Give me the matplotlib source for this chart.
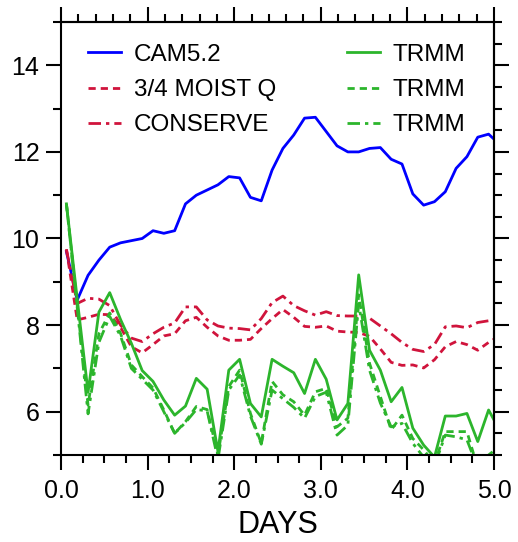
import numpy as np
import matplotlib
matplotlib.use("Agg")
import matplotlib.pyplot as plt
from matplotlib.ticker import MultipleLocator

plt.rcParams['font.family'] = ['Liberation Sans', 'DejaVu Sans']

# time (days), 3-hourly centred samples
days = 0.0625 + 0.125 * np.arange(41)

cam52 = [9.7, 8.58, 9.15, 9.5, 9.8, 9.9, 9.95, 10.0, 10.18, 10.12, 10.18, 10.8, 11.0,
         11.12, 11.24, 11.43, 11.40, 10.95, 10.87, 11.58, 12.08, 12.39, 12.78, 12.80,
         12.47, 12.14, 12.0, 12.0, 12.08, 12.1, 11.83, 11.72, 11.03, 10.77, 10.85,
         11.08, 11.62, 11.89, 12.34, 12.41, 12.18]
moist_q = [9.75, 8.12, 8.18, 8.25, 8.24, 7.95, 7.5, 7.36, 7.55, 7.75, 7.8, 8.1, 8.18,
           7.95, 7.75, 7.65, 7.65, 7.67, 7.92, 8.15, 8.36, 8.18, 7.97, 7.95, 7.98,
           7.86, 7.84, 7.83, 7.74, 7.45, 7.14, 7.07, 7.08, 7.01, 7.2, 7.5, 7.62, 7.55,
           7.42, 7.6, 7.75]
conserve = [9.75, 8.5, 8.62, 8.6, 8.45, 8.0, 7.7, 7.62, 7.8, 7.95, 8.05, 8.42, 8.42,
            8.12, 7.98, 7.93, 7.92, 7.89, 8.15, 8.52, 8.67, 8.45, 8.33, 8.23, 8.31,
            8.22, 8.21, 8.21, 8.16, 7.98, 7.8, 7.6, 7.44, 7.39, 7.55, 7.96, 7.98, 7.94,
            8.06, 8.1, 8.1]
trmm1 = [10.8, 8.6, 6.45, 8.3, 8.75, 8.13, 7.58, 6.95, 6.7, 6.27, 5.92, 6.13, 6.77,
         6.52, 5.08, 6.96, 7.21, 6.19, 5.88, 7.21, 7.05, 6.9, 6.42, 7.21, 6.75, 5.81,
         6.19, 9.16, 7.42, 6.96, 6.23, 6.56, 5.62, 5.23, 4.95, 5.9, 5.9, 5.96, 5.31,
         6.04, 5.58]
trmm2 = [10.8, 8.45, 6.15, 7.8, 8.28, 7.81, 7.08, 6.81, 6.55, 6.04, 5.5, 5.77, 6.12,
         6.05, 5.0, 6.58, 6.96, 5.96, 5.27, 6.7, 6.39, 6.23, 5.92, 6.46, 6.54, 5.65,
         5.85, 8.7, 7.12, 6.35, 5.58, 5.92, 5.38, 5.12, 4.8, 5.54, 5.54, 5.54, 4.7,
         5.0, 5.2]
trmm3 = [10.8, 8.4, 5.95, 7.6, 8.2, 7.75, 7.0, 6.75, 6.5, 6.0, 5.5, 5.75, 6.05, 6.02,
         4.9, 6.5, 6.85, 5.9, 5.25, 6.5, 6.3, 6.1, 5.85, 6.35, 6.45, 5.46, 5.69, 8.5,
         6.96, 6.2, 5.65, 5.73, 5.27, 4.95, 4.75, 5.46, 5.42, 5.35, 4.7, 4.95, 5.1]

labels = ["CAM5.2", "3/4 MOIST Q", "CONSERVE", "TRMM", "TRMM", "TRMM"]
xticks = [0, 1, 2, 3, 4, 5]
xticklabels = ["0.0", "1.0", "2.0", "3.0", "4.0", "5.0"]
yticks = [6, 8, 10, 12, 14]

BLUE = "#0000ff"
RED = "#d0143c"
GREEN = "#2cb52c"

fig = plt.figure(figsize=(5.18, 5.42), dpi=100)
ax = fig.add_axes([61/518, 1-455/542, 433/518, 433/542])

lw = 2.0
ax.plot(days, cam52, color=BLUE, lw=lw, label=labels[0])
ax.plot(days, moist_q, color=RED, lw=lw, dashes=(2.6, 1.8), label=labels[1])
ax.plot(days, conserve, color=RED, lw=lw, dashes=(4.5, 1.8, 1.2, 1.8), label=labels[2])
ax.plot(days, trmm1, color=GREEN, lw=lw, label=labels[3])
ax.plot(days, trmm2, color=GREEN, lw=lw, dashes=(2.6, 1.8), label=labels[4])
ax.plot(days, trmm3, color=GREEN, lw=lw, dashes=(4.5, 1.8, 1.2, 1.8), label=labels[5])

ax.set_xlim(0, 5)
ax.set_ylim(5, 15)

for s in ax.spines.values():
    s.set_linewidth(1.5)

ax.set_xticks(xticks)
ax.set_xticklabels(xticklabels)
ax.set_yticks(yticks)
ax.xaxis.set_minor_locator(MultipleLocator(0.25))
ax.yaxis.set_minor_locator(MultipleLocator(1))
ax.tick_params(axis='both', which='major', direction='out', length=10.5, width=1.5,
               labelsize=18, pad=5)
ax.tick_params(axis='both', which='minor', direction='out', length=5.5, width=1.5)
ax.tick_params(axis='x', which='major', pad=7)

top = ax.secondary_xaxis('top')
top.set_xticks(xticks)
top.set_xticklabels([])
top.xaxis.set_minor_locator(MultipleLocator(0.2))
top.tick_params(which='major', direction='out', length=10.5, width=1.5)
top.tick_params(which='minor', direction='out', length=5.5, width=1.5)
top.spines['top'].set_linewidth(1.5)

right = ax.secondary_yaxis('right')
right.set_yticks(yticks)
right.set_yticklabels([])
right.yaxis.set_minor_locator(MultipleLocator(0.5))
right.tick_params(which='major', direction='out', length=10.5, width=1.5)
right.tick_params(which='minor', direction='out', length=5.5, width=1.5)
right.spines['right'].set_linewidth(1.5)

ax.set_xlabel("DAYS", fontsize=22, labelpad=5)

leg = ax.legend(ncol=2, loc='upper left', bbox_to_anchor=(0.062, 0.95),
                frameon=False, fontsize=17.5, handlelength=1.35, handletextpad=0.55,
                columnspacing=2.9, labelspacing=0.55, borderpad=0, borderaxespad=0)

fig.savefig("out.png", dpi=100)
